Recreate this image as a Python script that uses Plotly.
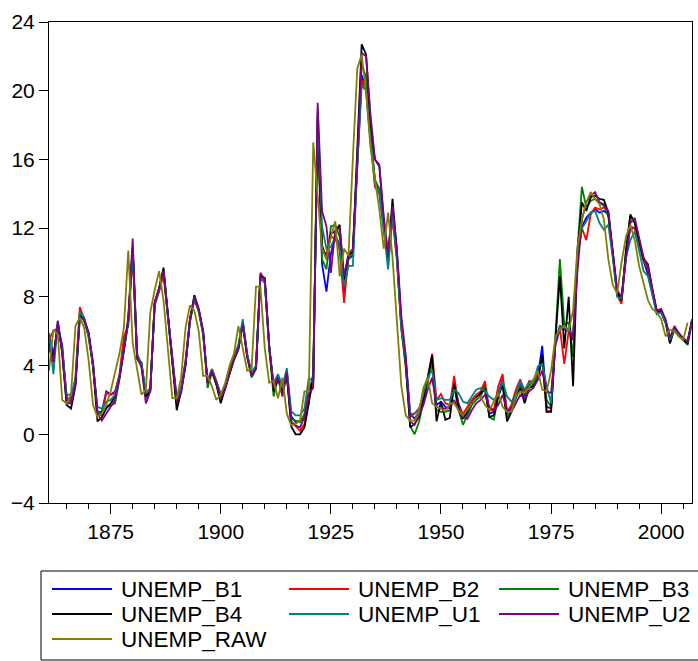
import plotly.graph_objects as go

years = list(range(1861, 2008))

unemp_raw = [
    3.7, 6.1, 5.8, 2.0, 1.8, 2.3, 6.3, 6.8, 6.2, 4.3,
    1.7, 1.0, 1.2, 1.7, 2.5, 3.6, 4.7, 6.2, 10.7, 5.3,
    3.7, 2.3, 2.6, 7.1, 8.4, 9.5, 7.8, 4.9, 2.1, 2.1,
    3.3, 6.2, 7.5, 7.2, 6.0, 3.4, 3.4, 2.8, 2.0, 2.3,
    3.0, 4.0, 4.7, 6.3, 5.0, 3.7, 3.8, 8.6, 8.6, 5.0,
    3.0, 3.1, 2.1, 3.3, 1.2, 0.5, 0.6, 0.8, 2.5, 2.5,
    17.0, 14.0, 10.8, 10.2, 11.5, 12.4, 9.2, 10.8, 10.4, 16.1,
    21.3, 22.1, 19.9, 16.7, 15.0, 13.1, 10.8, 12.9, 10.3, 6.5,
    2.8, 1.1, 0.8, 0.8, 1.3, 2.7, 3.3, 1.8, 1.6, 1.5,
    1.3, 1.8, 1.8, 1.4, 1.1, 1.4, 1.8, 2.1, 2.2, 1.7,
    1.4, 1.9, 2.4, 1.6, 1.3, 1.3, 2.2, 2.5, 2.4, 2.7,
    3.2, 3.7, 2.6, 2.5, 3.7, 5.7, 6.1, 6.3, 6.0, 7.2,
    10.9, 12.5, 13.5, 14.1, 13.7, 13.4, 12.5, 10.2, 8.7, 8.2,
    10.0, 11.5, 12.2, 11.3, 9.8, 8.8, 7.8, 7.3, 7.1, 6.7,
    5.7, 6.1, 6.0, 5.7, 5.5, 6.5, None,
]

unemp_b1 = [
    5.9, 4.6, 6.3, 5.2, 2.0, 2.1, 3.0, 7.0, 6.6, 5.8,
    4.0, 1.3, 1.3, 2.5, 2.3, 2.5, 3.4, 4.9, 6.7, 10.7,
    4.5, 4.0, 2.3, 2.6, 7.6, 8.4, 9.5, 6.8, 4.2, 2.0,
    2.6, 4.2, 6.6, 7.9, 7.2, 5.9, 3.0, 3.7, 3.0, 2.2,
    2.8, 3.7, 4.5, 5.1, 6.5, 4.6, 3.5, 3.9, 9.2, 8.9,
    5.1, 2.8, 3.4, 2.6, 3.7, 1.05, 0.7, 0.8, 0.9, 2.3,
    3.2, 18.5, 9.9, 8.3, 10.5, 11.6, 11.0, 8.3, 10.2, 10.4,
    16.0, 20.9, 20.2, 17.3, 14.8, 14.2, 12.1, 10.2, 13.0, 10.3,
    6.3, 4.4, 1.2, 0.9, 1.3, 2.0, 3.2, 4.3, 1.7, 1.9,
    1.6, 1.5, 3.0, 1.8, 1.1, 1.4, 1.9, 2.2, 2.3, 2.9,
    1.2, 1.3, 2.4, 3.2, 1.2, 1.6, 2.3, 2.9, 2.2, 2.9,
    3.0, 3.4, 5.15, 1.6, 1.5, 5.5, 6.3, 6.1, 6.1, 5.5,
    10.5, 12.1, 12.6, 12.9, 13.1, 12.9, 13.0, 12.8, 10.5, 8.2,
    7.8, 10.5, 12.0, 12.0, 11.1, 10.1, 9.3, 8.2, 7.1, 7.2,
    6.6, 5.6, 6.2, 5.8, 5.5, 5.4, 6.6,
]

unemp_b2 = [
    5.5, 6.0, 6.2, 5.0, 2.2, 1.9, 3.3, 7.4, 6.7, 5.8,
    4.1, 1.2, 1.1, 2.4, 2.3, 2.4, 3.5, 5.7, 6.3, 10.6,
    4.4, 4.0, 2.4, 2.7, 7.5, 8.3, 9.3, 6.8, 4.2, 2.1,
    2.7, 4.3, 6.7, 7.8, 7.2, 5.8, 3.1, 3.8, 3.1, 2.3,
    2.8, 3.7, 4.5, 5.1, 6.5, 4.6, 3.5, 3.9, 9.2, 8.9,
    5.1, 2.8, 3.3, 2.7, 3.5, 0.75, 0.45, 0.2, 0.6, 2.0,
    3.0, 18.2, 10.7, 10.5, 11.5, 11.4, 10.7, 7.65, 10.4, 10.6,
    15.8, 20.6, 20.0, 17.0, 14.4, 14.0, 12.0, 10.0, 12.6, 10.1,
    6.1, 3.9, 1.0, 1.2, 1.5, 2.1, 3.3, 4.7, 2.0, 2.35,
    1.8, 1.7, 3.4, 1.6, 1.2, 1.6, 2.0, 2.3, 2.5, 3.1,
    1.4, 1.4, 2.8, 3.5, 1.3, 1.7, 2.6, 3.2, 2.4, 3.1,
    3.1, 3.5, 4.3, 1.3, 1.4, 5.3, 6.2, 4.1, 6.0, 5.6,
    10.3, 12.0, 11.3, 12.8, 13.2, 13.1, 13.2, 12.9, 10.5, 8.1,
    7.6, 10.4, 12.1, 12.0, 11.1, 10.1, 9.6, 8.2, 7.0, 7.2,
    6.6, 5.6, 6.2, 5.8, 5.5, 5.4, 6.6,
]

unemp_b3 = [
    5.4, 4.4, 6.4, 4.8, 2.0, 1.8, 2.9, 7.0, 6.6, 5.7,
    4.0, 1.3, 1.2, 1.6, 1.7, 1.8, 3.2, 4.8, 6.5, 10.8,
    4.6, 4.0, 2.1, 2.6, 7.6, 8.5, 9.6, 6.9, 4.3, 1.8,
    2.6, 4.0, 6.5, 7.9, 7.1, 5.9, 2.7, 3.6, 2.9, 2.1,
    2.7, 3.5, 4.3, 4.9, 6.4, 4.5, 3.3, 3.8, 9.1, 8.9,
    5.0, 2.2, 3.3, 2.5, 3.5, 0.9, 0.8, 0.7, 1.2, 2.5,
    3.4, 18.0, 10.2, 9.6, 12.1, 12.2, 11.5, 8.8, 10.3, 10.5,
    16.0, 21.5, 20.8, 17.5, 14.8, 14.3, 12.2, 10.4, 13.0, 10.4,
    6.2, 4.0, 0.5, 0.0, 0.7, 1.9, 3.1, 4.2, 1.4, 1.3,
    1.3, 1.4, 2.8, 1.4, 0.55, 1.1, 1.7, 2.0, 2.2, 2.8,
    1.0, 0.85, 2.2, 3.0, 1.0, 1.4, 2.2, 2.8, 2.0, 2.8,
    2.9, 3.3, 4.5, 2.0, 1.6, 5.8, 10.2, 6.4, 6.5, 4.5,
    10.8, 14.4, 13.2, 13.6, 13.7, 13.5, 13.4, 12.7, 10.6, 8.3,
    7.8, 10.6, 12.7, 12.3, 11.2, 10.2, 9.7, 8.3, 7.1, 7.1,
    6.5, 5.3, 6.1, 5.7, 5.5, 5.2, 6.5,
]

unemp_b4 = [
    5.3, 4.4, 6.5, 4.8, 1.7, 1.5, 2.8, 6.9, 6.7, 5.9,
    3.9, 0.75, 1.0, 1.5, 1.8, 2.2, 3.3, 4.9, 6.6, 10.9,
    4.4, 4.2, 2.2, 2.5, 7.7, 8.5, 9.7, 7.0, 4.0, 1.4,
    2.5, 4.0, 6.7, 8.1, 7.3, 6.0, 3.0, 3.7, 2.9, 1.8,
    2.7, 3.6, 4.4, 5.0, 6.5, 4.6, 3.4, 3.9, 9.2, 9.1,
    5.2, 2.5, 3.2, 2.4, 3.4, 0.45, 0.0, 0.0, 0.4, 1.8,
    3.6, 18.3, 11.0, 10.2, 11.7, 11.8, 12.2, 9.0, 10.5, 10.6,
    16.2, 22.7, 22.1, 18.2, 16.0, 15.6, 12.5, 10.3, 13.7, 10.6,
    6.5, 4.2, 0.4, 0.6, 1.0, 2.0, 3.3, 4.6, 0.75, 1.9,
    0.85, 0.95, 2.9, 1.5, 0.9, 1.3, 1.8, 2.1, 2.4, 2.6,
    1.0, 1.1, 2.2, 2.9, 0.75, 1.3, 2.1, 2.7, 1.8, 2.7,
    2.8, 3.2, 4.6, 1.3, 1.3, 5.5, 9.2, 5.0, 8.0, 2.8,
    10.6, 13.5, 13.0, 13.8, 13.9, 13.7, 13.65, 12.9, 10.6, 8.3,
    7.8, 10.7, 12.8, 12.3, 11.3, 10.2, 9.9, 8.4, 7.2, 7.1,
    6.5, 5.3, 6.2, 5.8, 5.5, 5.3, 6.6,
]

unemp_u1 = [
    5.9, 3.5, 6.6, 4.9, 2.3, 2.3, 3.2, 7.1, 6.8, 5.6,
    4.0, 1.6, 1.5, 1.9, 2.0, 2.3, 3.4, 5.0, 6.6, 10.8,
    4.7, 4.1, 2.4, 2.6, 7.6, 8.4, 9.5, 6.8, 4.3, 2.1,
    2.7, 4.2, 6.6, 7.9, 7.2, 5.8, 3.1, 3.8, 3.1, 2.3,
    2.9, 3.8, 4.6, 5.2, 6.7, 4.7, 3.6, 4.0, 9.1, 8.8,
    5.0, 3.0, 3.5, 2.8, 3.85, 1.35, 1.1, 1.1, 1.5, 3.3,
    3.0, 18.8, 12.1, 10.8, 10.9, 11.5, 10.9, 8.6, 9.8, 9.8,
    15.6, 20.3, 20.0, 17.0, 14.6, 14.1, 12.0, 9.6, 12.8, 10.2,
    6.2, 4.3, 1.2, 1.2, 1.4, 2.3, 3.3, 3.75, 2.0, 2.1,
    2.0, 2.0, 2.6, 2.4, 1.9, 1.8, 2.2, 2.6, 2.7, 2.5,
    2.2, 2.0, 2.3, 3.1, 2.2, 1.9, 2.3, 3.1, 2.6, 3.0,
    3.0, 3.95, 4.1, 2.8, 1.8, 5.5, 6.3, 6.3, 6.1, 5.8,
    10.2, 12.0, 12.4, 12.9, 13.0, 12.3, 11.9, 12.2, 10.3, 8.0,
    7.9, 10.3, 11.3, 11.8, 10.7, 9.5, 9.2, 8.0, 7.0, 7.1,
    6.5, 5.5, 6.1, 5.8, 5.6, 5.4, 6.5,
]

unemp_u2 = [
    5.0, 4.2, 6.6, 4.7, 1.8, 1.8, 2.9, 6.8, 6.7, 5.9,
    4.2, 1.2, 0.8, 1.2, 1.6, 2.0, 3.3, 4.9, 6.8, 11.4,
    4.5, 3.9, 1.8, 2.5, 7.7, 8.5, 9.5, 7.0, 4.1, 1.9,
    2.4, 4.1, 6.6, 8.0, 7.3, 6.0, 3.0, 3.7, 3.0, 2.1,
    2.6, 3.6, 4.4, 5.0, 6.4, 4.5, 3.4, 3.8, 9.4, 9.0,
    5.1, 2.7, 3.3, 2.2, 3.6, 0.7, 0.5, 0.4, 1.0, 2.4,
    2.7, 19.3, 13.0, 12.1, 9.4, 11.9, 12.0, 9.2, 10.5, 10.8,
    16.0, 22.2, 22.0, 18.6, 16.0, 15.7, 12.7, 10.5, 13.3, 10.8,
    6.9, 4.6, 0.75, 0.55, 1.1, 1.7, 2.6, 3.3, 1.6, 1.5,
    1.5, 1.6, 2.0, 1.4, 1.0, 0.9, 1.4, 1.8, 2.0, 2.3,
    1.6, 1.4, 1.7, 2.3, 1.4, 1.3, 1.8, 2.3, 2.1, 2.5,
    2.7, 3.2, 3.7, 2.5, 2.4, 5.2, 6.1, 6.2, 6.0, 5.7,
    9.5, 12.5, 13.5, 13.9, 14.1, 13.5, 13.3, 13.0, 10.7, 8.4,
    8.0, 10.2, 12.3, 12.6, 11.4, 10.3, 9.8, 8.4, 7.2, 7.3,
    6.7, 5.6, 6.3, 5.9, 5.6, 5.4, 6.7,
]

series_names = ["UNEMP_B1", "UNEMP_B2", "UNEMP_B3", "UNEMP_B4",
                "UNEMP_U1", "UNEMP_U2", "UNEMP_RAW"]
series_values = [unemp_b1, unemp_b2, unemp_b3, unemp_b4,
                 unemp_u1, unemp_u2, unemp_raw]
series_colors = ["#0000FF", "#FF0000", "#008000", "#000000",
                 "#008080", "#800080", "#808000"]

x_tick_vals = [1875, 1900, 1925, 1950, 1975, 2000]
y_tick_vals = [-4, 0, 4, 8, 12, 16, 20, 24]

FONT = "Liberation Sans, Arial, sans-serif"
W, H = 698, 661
ML, MR, MT, MB = 49, 6, 22, 158
PW, PH = W - ML - MR, H - MT - MB

fig = go.Figure()
for name, vals, col in zip(series_names, series_values, series_colors):
    fig.add_trace(go.Scatter(x=years, y=vals, mode="lines", name=name,
                             line=dict(color=col, width=1.8),
                             showlegend=False, connectgaps=False))

def px(xp):
    return (xp - ML) / PW

def py(yp):
    return (H - MB - yp) / PH

shapes = []
annotations = []
# legend frame
shapes.append(dict(type="rect", xref="paper", yref="paper",
                   x0=px(41), x1=px(730), y0=py(660), y1=py(571),
                   line=dict(color="black", width=1), fillcolor="white",
                   layer="above"))
col_line = [(52, 112), (289, 349), (499, 559)]
row_y = [589, 614, 639]
for i, (name, col) in enumerate(zip(series_names, series_colors)):
    r, c = divmod(i, 3)
    x0, x1 = col_line[c]
    yy = row_y[r]
    shapes.append(dict(type="line", xref="paper", yref="paper",
                       x0=px(x0), x1=px(x1), y0=py(yy), y1=py(yy),
                       line=dict(color=col, width=2), layer="above"))
    annotations.append(dict(text=name, xref="paper", yref="paper",
                            x=px(x1 + 7), y=py(yy), xanchor="left",
                            yanchor="middle", showarrow=False,
                            font=dict(family=FONT, size=22.5, color="black")))

fig.update_layout(
    width=W, height=H,
    margin=dict(l=ML, r=MR, t=MT, b=MB, pad=0),
    paper_bgcolor="white", plot_bgcolor="white",
    font=dict(family=FONT, size=21, color="black"),
    shapes=shapes, annotations=annotations,
    xaxis=dict(range=[1861, 2007], tickvals=x_tick_vals,
               ticks="outside", ticklen=10, tickcolor="black", tickwidth=1,
               showline=True, linecolor="black", linewidth=1, mirror=True,
               showgrid=False, zeroline=False,
               minor=dict(ticks="outside", ticklen=5, dtick=5, tick0=1860,
                          tickcolor="black", showgrid=False),
               tickfont=dict(family=FONT, size=21, color="black")),
    yaxis=dict(range=[-4, 24], tickvals=y_tick_vals,
               ticks="outside", ticklen=9, tickcolor="black", tickwidth=1,
               showline=True, linecolor="black", linewidth=1, mirror=True,
               showgrid=False, zeroline=False,
               tickfont=dict(family=FONT, size=21, color="black")),
)

fig.write_html("out.html")
